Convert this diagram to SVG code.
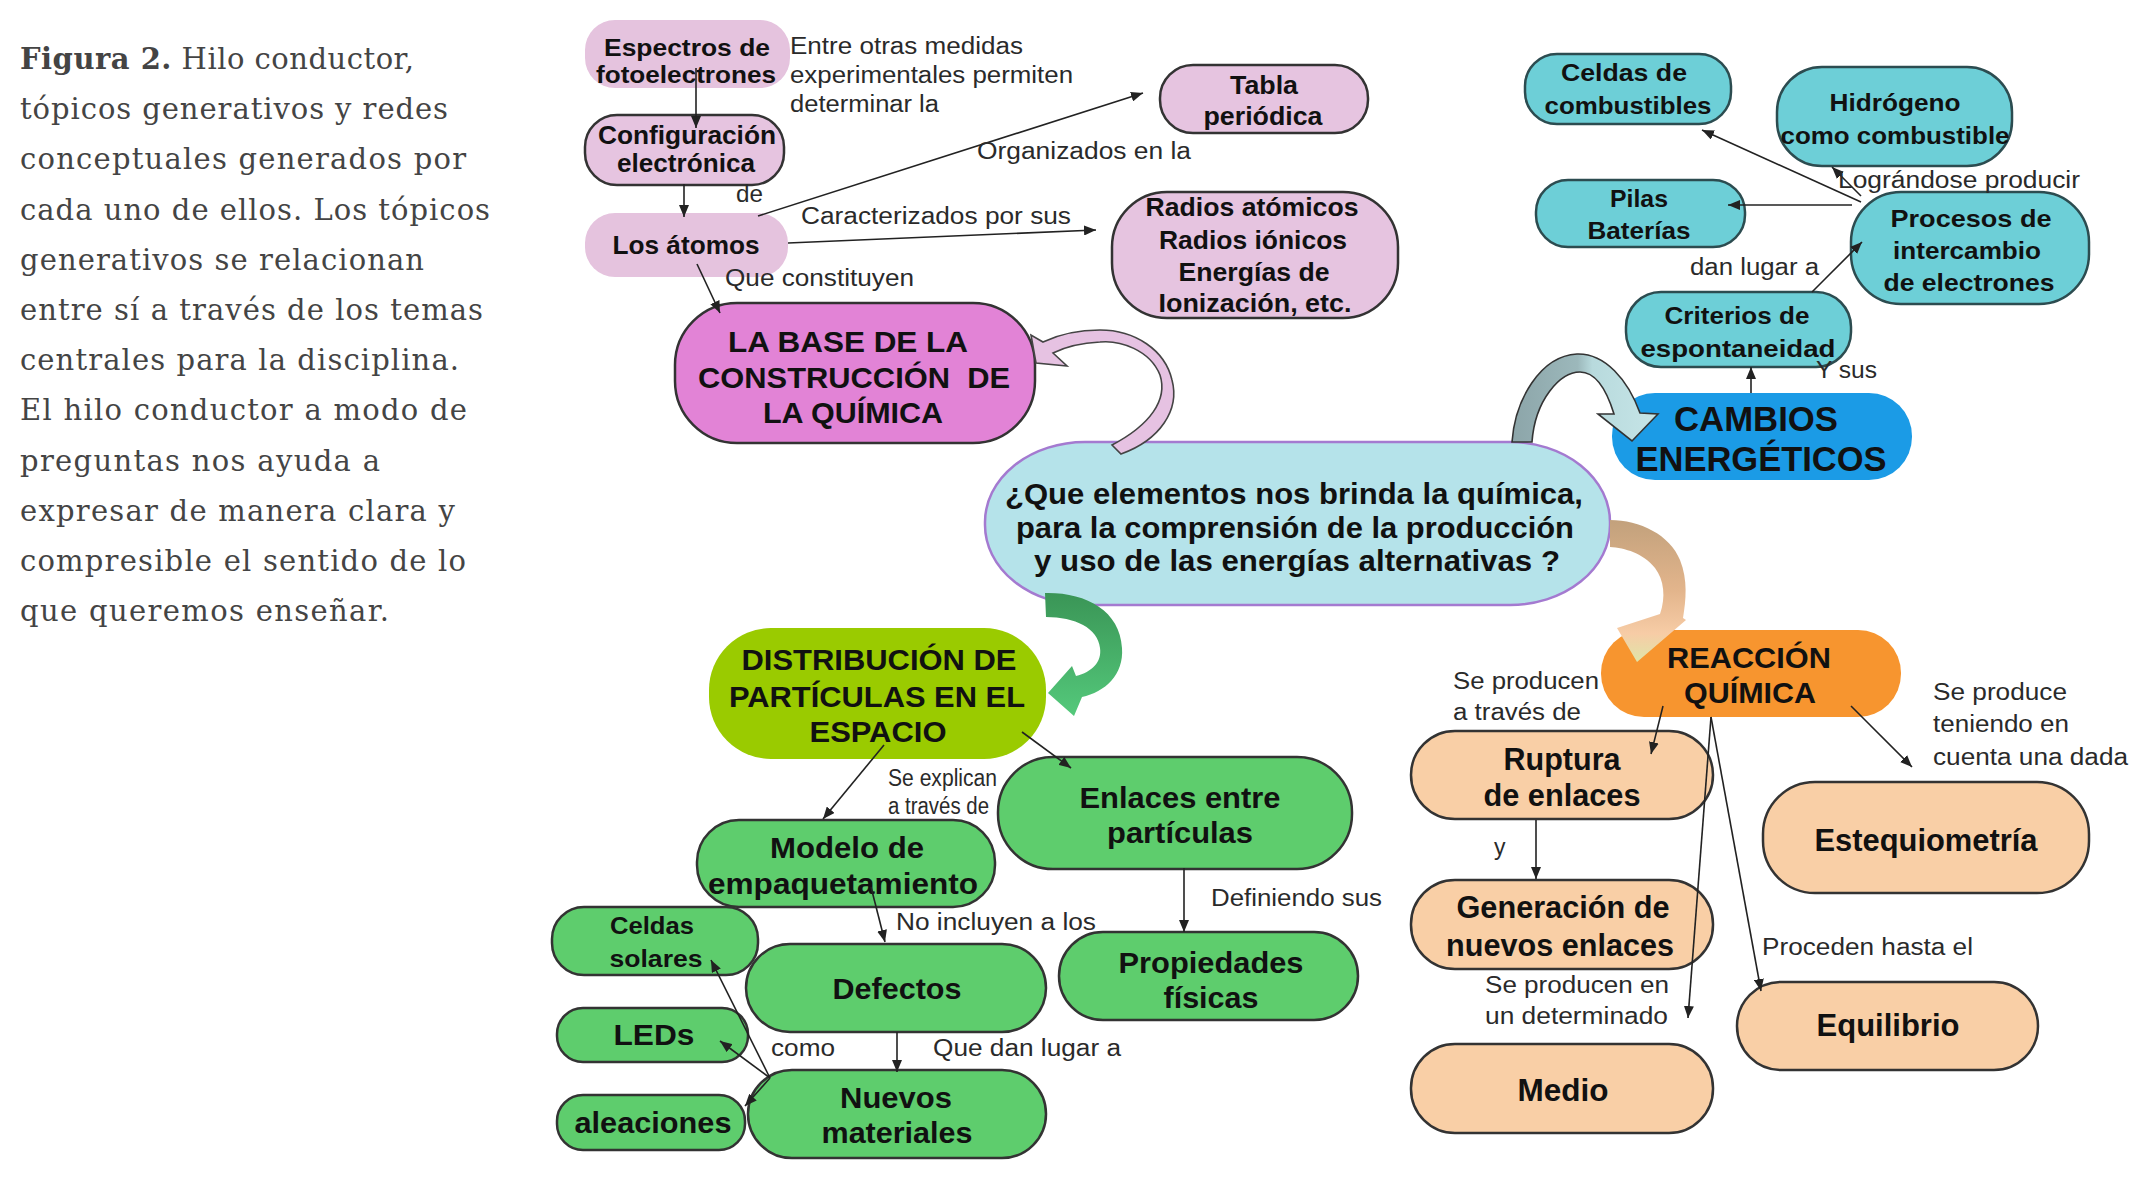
<svg xmlns="http://www.w3.org/2000/svg" width="2149" height="1181" viewBox="0 0 2149 1181">
<defs>
<style>
.cap{font-family:"DejaVu Serif","Liberation Serif",serif;font-size:29px;fill:#444}
.n{font-family:"Liberation Sans",Arial,sans-serif;font-weight:bold;fill:#111;text-anchor:middle;dominant-baseline:central}
.lb{font-family:"Liberation Sans",Arial,sans-serif;fill:#2a2a2a;dominant-baseline:central;font-size:23px}
.bd{stroke:#333;stroke-width:2.5}
.bc{stroke:#2c4c50;stroke-width:2.5}
.ln{stroke:#222;stroke-width:1.6;fill:none;marker-end:url(#ah)}
</style>
<marker id="ah" viewBox="0 0 12 10" refX="12" refY="5" markerWidth="12" markerHeight="10" markerUnits="userSpaceOnUse" orient="auto"><path d="M0,0 L12,5 L0,10 z" fill="#222"/></marker>
<linearGradient id="gBlue" x1="0" y1="0" x2="1" y2="0"><stop offset="0" stop-color="#8ca5a9"/><stop offset="0.45" stop-color="#9cb8bb"/><stop offset="0.55" stop-color="#b8dadd"/><stop offset="1" stop-color="#c6e5e7"/></linearGradient>
<linearGradient id="gGreen" x1="0" y1="0" x2="0" y2="1"><stop offset="0" stop-color="#3a9556"/><stop offset="1" stop-color="#54c97b"/></linearGradient>
<linearGradient id="gOr" x1="0" y1="0" x2="0" y2="1"><stop offset="0" stop-color="#c2a17c"/><stop offset="0.5" stop-color="#e3b58c"/><stop offset="0.8" stop-color="#f7cca6"/><stop offset="1" stop-color="#dfe5a8"/></linearGradient>
</defs>
<rect width="2149" height="1181" fill="#fff"/>

<g id="caption">
<text class="cap" x="20" y="69" textLength="394"><tspan font-weight="bold">Figura 2.</tspan> Hilo conductor,</text>
<text class="cap" x="20" y="119" textLength="428">tópicos generativos y redes</text>
<text class="cap" x="20" y="169" textLength="446">conceptuales generados por</text>
<text class="cap" x="20" y="220" textLength="470">cada uno de ellos. Los tópicos</text>
<text class="cap" x="20" y="270" textLength="404">generativos se relacionan</text>
<text class="cap" x="20" y="320" textLength="463">entre sí a través de los temas</text>
<text class="cap" x="20" y="370" textLength="439">centrales para la disciplina.</text>
<text class="cap" x="20" y="420" textLength="447">El hilo conductor a modo de</text>
<text class="cap" x="20" y="471" textLength="360">preguntas nos ayuda a</text>
<text class="cap" x="20" y="521" textLength="435">expresar de manera clara y</text>
<text class="cap" x="20" y="571" textLength="446">compresible el sentido de lo</text>
<text class="cap" x="20" y="621" textLength="369">que queremos enseñar.</text>
</g>

<g id="n-espectros"><rect x="585" y="20" width="205" height="68" rx="30" fill="#e5c3de"/>
<text class="n" x="687" y="47" font-size="24" textLength="166" lengthAdjust="spacingAndGlyphs">Espectros de</text>
<text class="n" x="686" y="74" font-size="24" textLength="180" lengthAdjust="spacingAndGlyphs">fotoelectrones</text></g>
<g id="n-configuracion"><rect x="585" y="115" width="199" height="70" rx="32" fill="#e6c4e0" class="bd"/>
<text class="n" x="687" y="135" font-size="25" textLength="178" lengthAdjust="spacingAndGlyphs">Configuración</text>
<text class="n" x="686" y="163" font-size="25" textLength="138" lengthAdjust="spacingAndGlyphs">electrónica</text></g>
<g id="n-atomos"><rect x="585" y="213" width="203" height="64" rx="30" fill="#e5c3de"/>
<text class="n" x="686" y="245" font-size="26" textLength="147" lengthAdjust="spacingAndGlyphs">Los átomos</text></g>
<g id="n-tabla"><rect x="1160" y="65" width="208" height="68" rx="33" fill="#e6c4e0" class="bd"/>
<text class="n" x="1264" y="85" font-size="25" textLength="68" lengthAdjust="spacingAndGlyphs">Tabla</text>
<text class="n" x="1263" y="116" font-size="25" textLength="119" lengthAdjust="spacingAndGlyphs">periódica</text></g>
<g id="n-radios"><rect x="1112" y="192" width="286" height="126" rx="55" fill="#e6c4e0" class="bd"/>
<text class="n" x="1252" y="207" font-size="25" textLength="213" lengthAdjust="spacingAndGlyphs">Radios atómicos</text>
<text class="n" x="1253" y="240" font-size="25" textLength="188" lengthAdjust="spacingAndGlyphs">Radios iónicos</text>
<text class="n" x="1254" y="272" font-size="25" textLength="151" lengthAdjust="spacingAndGlyphs">Energías de</text>
<text class="n" x="1255" y="303" font-size="25" textLength="193" lengthAdjust="spacingAndGlyphs">Ionización, etc.</text></g>
<g id="n-base"><rect x="675" y="303" width="360" height="140" rx="62" fill="#e283d6" class="bd"/>
<text class="n" x="848" y="341" font-size="30" textLength="240" lengthAdjust="spacingAndGlyphs">LA BASE DE LA</text>
<text class="n" x="854" y="377" font-size="30" textLength="312" lengthAdjust="spacingAndGlyphs" xml:space="preserve">CONSTRUCCIÓN  DE</text>
<text class="n" x="853" y="412" font-size="30" textLength="180" lengthAdjust="spacingAndGlyphs">LA QUÍMICA</text></g>

<g id="n-central"><rect x="985" y="442" width="625" height="163" rx="100" ry="80" fill="#b5e3ea" stroke="#a47ad0" stroke-width="2.5"/>
<text class="n" x="1294" y="493" font-size="30" textLength="578" lengthAdjust="spacingAndGlyphs">¿Que elementos nos brinda la química,</text>
<text class="n" x="1295" y="527" font-size="30" textLength="558" lengthAdjust="spacingAndGlyphs">para la comprensión de la producción</text>
<text class="n" x="1297" y="560" font-size="30" textLength="526" lengthAdjust="spacingAndGlyphs">y uso de las energías alternativas ?</text></g>

<g id="n-celdascomb"><rect x="1525" y="54" width="206" height="70" rx="32" fill="#6dcfd7" class="bc"/>
<text class="n" x="1624" y="72" font-size="24" textLength="126" lengthAdjust="spacingAndGlyphs">Celdas de</text>
<text class="n" x="1628" y="105" font-size="24" textLength="167" lengthAdjust="spacingAndGlyphs">combustibles</text></g>
<g id="n-hidrogeno"><rect x="1777" y="67" width="235" height="99" rx="45" fill="#6dcfd7" class="bc"/>
<text class="n" x="1895" y="102" font-size="24" textLength="131" lengthAdjust="spacingAndGlyphs">Hidrógeno</text>
<text class="n" x="1895" y="135" font-size="24" textLength="229" lengthAdjust="spacingAndGlyphs">como combustible</text></g>
<g id="n-pilas"><rect x="1536" y="180" width="209" height="67" rx="32" fill="#6dcfd7" class="bc"/>
<text class="n" x="1639" y="198" font-size="24" textLength="58" lengthAdjust="spacingAndGlyphs">Pilas</text>
<text class="n" x="1639" y="230" font-size="24" textLength="103" lengthAdjust="spacingAndGlyphs">Baterías</text></g>
<g id="n-procesos"><rect x="1851" y="192" width="238" height="112" rx="50" fill="#6dcfd7" class="bc"/>
<text class="n" x="1971" y="218" font-size="24" textLength="161" lengthAdjust="spacingAndGlyphs">Procesos de</text>
<text class="n" x="1967" y="250" font-size="24" textLength="148" lengthAdjust="spacingAndGlyphs">intercambio</text>
<text class="n" x="1969" y="282" font-size="24" textLength="171" lengthAdjust="spacingAndGlyphs">de electrones</text></g>
<g id="n-criterios"><rect x="1626" y="292" width="225" height="75" rx="35" fill="#6dcfd7" class="bc"/>
<text class="n" x="1737" y="315" font-size="24" textLength="145" lengthAdjust="spacingAndGlyphs">Criterios de</text>
<text class="n" x="1738" y="348" font-size="24" textLength="195" lengthAdjust="spacingAndGlyphs">espontaneidad</text></g>
<g id="n-cambios"><rect x="1612" y="393" width="300" height="87" rx="43" fill="#1b9be6"/>
<text class="n" x="1756" y="418" font-size="35" textLength="164" lengthAdjust="spacingAndGlyphs">CAMBIOS</text>
<text class="n" x="1761" y="458" font-size="35" textLength="251" lengthAdjust="spacingAndGlyphs">ENERGÉTICOS</text></g>

<g id="n-distribucion"><rect x="709" y="628" width="337" height="131" rx="62" fill="#9acb00"/>
<text class="n" x="879" y="660" font-size="29" textLength="275" lengthAdjust="spacingAndGlyphs">DISTRIBUCIÓN DE</text>
<text class="n" x="877" y="697" font-size="29" textLength="296" lengthAdjust="spacingAndGlyphs">PARTÍCULAS EN EL</text>
<text class="n" x="878" y="732" font-size="29" textLength="137" lengthAdjust="spacingAndGlyphs">ESPACIO</text></g>
<g id="n-enlaces"><rect x="998" y="757" width="354" height="112" rx="55" fill="#5ecd6d" class="bd"/>
<text class="n" x="1180" y="797" font-size="30" textLength="201" lengthAdjust="spacingAndGlyphs">Enlaces entre</text>
<text class="n" x="1180" y="832" font-size="30" textLength="146" lengthAdjust="spacingAndGlyphs">partículas</text></g>
<g id="n-modelo"><rect x="697" y="820" width="298" height="87" rx="42" fill="#5ecd6d" class="bd"/>
<text class="n" x="847" y="847" font-size="30" textLength="154" lengthAdjust="spacingAndGlyphs">Modelo de</text>
<text class="n" x="843" y="883" font-size="30" textLength="270" lengthAdjust="spacingAndGlyphs">empaquetamiento</text></g>
<g id="n-celdassolares"><rect x="552" y="907" width="206" height="68" rx="32" fill="#5ecd6d" class="bd"/>
<text class="n" x="652" y="925" font-size="24" textLength="84" lengthAdjust="spacingAndGlyphs">Celdas</text>
<text class="n" x="656" y="958" font-size="24" textLength="93" lengthAdjust="spacingAndGlyphs">solares</text></g>
<g id="n-defectos"><rect x="746" y="944" width="300" height="88" rx="44" fill="#5ecd6d" class="bd"/>
<text class="n" x="897" y="988" font-size="30" textLength="129" lengthAdjust="spacingAndGlyphs">Defectos</text></g>
<g id="n-propiedades"><rect x="1059" y="932" width="299" height="88" rx="44" fill="#5ecd6d" class="bd"/>
<text class="n" x="1211" y="962" font-size="30" textLength="185" lengthAdjust="spacingAndGlyphs">Propiedades</text>
<text class="n" x="1211" y="997" font-size="30" textLength="95" lengthAdjust="spacingAndGlyphs">físicas</text></g>
<g id="n-leds"><rect x="557" y="1008" width="191" height="54" rx="26" fill="#5ecd6d" class="bd"/>
<text class="n" x="654" y="1035" font-size="29" textLength="81" lengthAdjust="spacingAndGlyphs">LEDs</text></g>
<g id="n-nuevos"><rect x="748" y="1070" width="298" height="88" rx="44" fill="#5ecd6d" class="bd"/>
<text class="n" x="896" y="1097" font-size="30" textLength="112" lengthAdjust="spacingAndGlyphs">Nuevos</text>
<text class="n" x="897" y="1132" font-size="30" textLength="151" lengthAdjust="spacingAndGlyphs">materiales</text></g>
<g id="n-aleaciones"><rect x="557" y="1095" width="188" height="55" rx="26" fill="#5ecd6d" class="bd"/>
<text class="n" x="653" y="1123" font-size="29" textLength="157" lengthAdjust="spacingAndGlyphs">aleaciones</text></g>

<g id="n-reaccion"><rect x="1601" y="630" width="300" height="87" rx="43" fill="#f7952f"/>
<text class="n" x="1749" y="657" font-size="30" textLength="164" lengthAdjust="spacingAndGlyphs">REACCIÓN</text>
<text class="n" x="1750" y="692" font-size="30" textLength="132" lengthAdjust="spacingAndGlyphs">QUÍMICA</text></g>
<g id="n-ruptura"><rect x="1411" y="731" width="302" height="88" rx="44" fill="#f9cfa6" class="bd"/>
<text class="n" x="1562" y="759" font-size="31" textLength="117" lengthAdjust="spacingAndGlyphs">Ruptura</text>
<text class="n" x="1562" y="795" font-size="31" textLength="157" lengthAdjust="spacingAndGlyphs">de enlaces</text></g>
<g id="n-estequiometria"><rect x="1763" y="782" width="326" height="111" rx="52" fill="#f9cfa6" class="bd"/>
<text class="n" x="1926" y="840" font-size="31" textLength="223" lengthAdjust="spacingAndGlyphs">Estequiometría</text></g>
<g id="n-generacion"><rect x="1411" y="880" width="302" height="89" rx="44" fill="#f9cfa6" class="bd"/>
<text class="n" x="1563" y="907" font-size="31" textLength="213" lengthAdjust="spacingAndGlyphs">Generación de</text>
<text class="n" x="1560" y="945" font-size="31" textLength="228" lengthAdjust="spacingAndGlyphs">nuevos enlaces</text></g>
<g id="n-equilibrio"><rect x="1737" y="982" width="301" height="88" rx="44" fill="#f9cfa6" class="bd"/>
<text class="n" x="1888" y="1025" font-size="31" textLength="143" lengthAdjust="spacingAndGlyphs">Equilibrio</text></g>
<g id="n-medio"><rect x="1411" y="1044" width="302" height="89" rx="44" fill="#f9cfa6" class="bd"/>
<text class="n" x="1563" y="1090" font-size="31" textLength="91" lengthAdjust="spacingAndGlyphs">Medio</text></g>

<g id="connectors">
<path d="M1112 445 C1150 425 1168 400 1160 375 C1150 350 1120 340 1100 342 C1080 343 1065 347 1053 353 L1067 366 L1036 363 L1031 335 L1043 342 C1062 333 1082 330 1100 330 C1135 330 1165 350 1172 380 C1180 410 1160 440 1121 454 Z" fill="#e6c2e2" stroke="#444" stroke-width="1.6"/>
<path d="M1512 442 C1515 400 1540 356 1577 354 C1605 353 1628 380 1640 413 L1658 414 L1632 441 L1598 414 L1614 414 C1606 388 1595 372 1580 372 C1560 372 1535 400 1532 442 Z" fill="url(#gBlue)" stroke="#333" stroke-width="1.6"/>
<path d="M1045 593 C1085 592 1120 610 1122 648 C1124 675 1105 692 1082 697 L1074 716 L1048 693 L1072 666 L1076 676 C1092 672 1102 662 1100 648 C1098 628 1075 617 1046 617 Z" fill="url(#gGreen)"/>
<path d="M1610 520 C1640 520 1670 535 1680 560 C1688 580 1686 600 1683 618 L1686 620 L1637 662 L1617 628 L1660 614 C1666 597 1664 580 1655 568 C1643 553 1625 548 1610 547 Z" fill="url(#gOr)"/>

<path class="ln" d="M696 68 L696 128"/>
<path class="ln" d="M684 184 L684 217"/>
<path class="ln" d="M758 216 L1143 93"/>
<path class="ln" d="M788 243 L1096 230"/>
<path class="ln" d="M697 264 L720 313"/>
<path class="ln" d="M1861 202 L1702 130"/>
<path class="ln" d="M1861 196 L1832 167"/>
<path class="ln" d="M1852 205 L1728 205"/>
<path class="ln" d="M1812 292 L1862 242"/>
<path class="ln" d="M1751 393 L1751 367"/>
<path class="ln" d="M884 745 L823 819"/>
<path class="ln" d="M1022 732 L1071 768"/>
<path class="ln" d="M871 887 L885 942"/>
<path class="ln" d="M1184 868 L1184 932"/>
<path class="ln" d="M897 1032 L897 1072"/>
<path class="ln" d="M770 1078 L711 960"/>
<path class="ln" d="M770 1078 L720 1041"/>
<path class="ln" d="M770 1078 L745 1106"/>
<path class="ln" d="M1663 706 L1651 754"/>
<path class="ln" d="M1711 717 L1688 1018"/>
<path class="ln" d="M1711 717 L1761 991"/>
<path class="ln" d="M1851 706 L1912 767"/>
<path class="ln" d="M1536 820 L1536 879"/>

<text class="lb" x="790" y="46" textLength="233" lengthAdjust="spacingAndGlyphs">Entre otras medidas</text>
<text class="lb" x="790" y="75" textLength="283" lengthAdjust="spacingAndGlyphs">experimentales permiten</text>
<text class="lb" x="790" y="104" textLength="149" lengthAdjust="spacingAndGlyphs">determinar la</text>
<text class="lb" x="977" y="151" textLength="214" lengthAdjust="spacingAndGlyphs">Organizados en la</text>
<text class="lb" x="736" y="194" textLength="27" lengthAdjust="spacingAndGlyphs">de</text>
<text class="lb" x="801" y="216" textLength="270" lengthAdjust="spacingAndGlyphs">Caracterizados por sus</text>
<text class="lb" x="725" y="278" textLength="189" lengthAdjust="spacingAndGlyphs">Que constituyen</text>
<text class="lb" x="1838" y="180" textLength="242" lengthAdjust="spacingAndGlyphs">Lográndose producir</text>
<text class="lb" x="1690" y="267" textLength="129" lengthAdjust="spacingAndGlyphs">dan lugar a</text>
<text class="lb" x="1816" y="370" textLength="61" lengthAdjust="spacingAndGlyphs">Y sus</text>
<text class="lb" x="888" y="778" font-size="18" textLength="109" lengthAdjust="spacingAndGlyphs">Se explican</text>
<text class="lb" x="888" y="806" font-size="18" textLength="101" lengthAdjust="spacingAndGlyphs">a través de</text>
<text class="lb" x="896" y="922" textLength="200" lengthAdjust="spacingAndGlyphs">No incluyen a los</text>
<text class="lb" x="1211" y="898" textLength="171" lengthAdjust="spacingAndGlyphs">Definiendo sus</text>
<text class="lb" x="771" y="1048" textLength="64" lengthAdjust="spacingAndGlyphs">como</text>
<text class="lb" x="933" y="1048" textLength="188" lengthAdjust="spacingAndGlyphs">Que dan lugar a</text>
<text class="lb" x="1453" y="681" textLength="146" lengthAdjust="spacingAndGlyphs">Se producen</text>
<text class="lb" x="1453" y="712" textLength="128" lengthAdjust="spacingAndGlyphs">a través de</text>
<text class="lb" x="1933" y="692" textLength="134" lengthAdjust="spacingAndGlyphs">Se produce</text>
<text class="lb" x="1933" y="724" textLength="136" lengthAdjust="spacingAndGlyphs">teniendo en</text>
<text class="lb" x="1933" y="757" textLength="195" lengthAdjust="spacingAndGlyphs">cuenta una dada</text>
<text class="lb" x="1494" y="847">y</text>
<text class="lb" x="1762" y="947" textLength="211" lengthAdjust="spacingAndGlyphs">Proceden hasta el</text>
<text class="lb" x="1485" y="985" textLength="184" lengthAdjust="spacingAndGlyphs">Se producen en</text>
<text class="lb" x="1485" y="1016" textLength="183" lengthAdjust="spacingAndGlyphs">un determinado</text>
</g>
</svg>
